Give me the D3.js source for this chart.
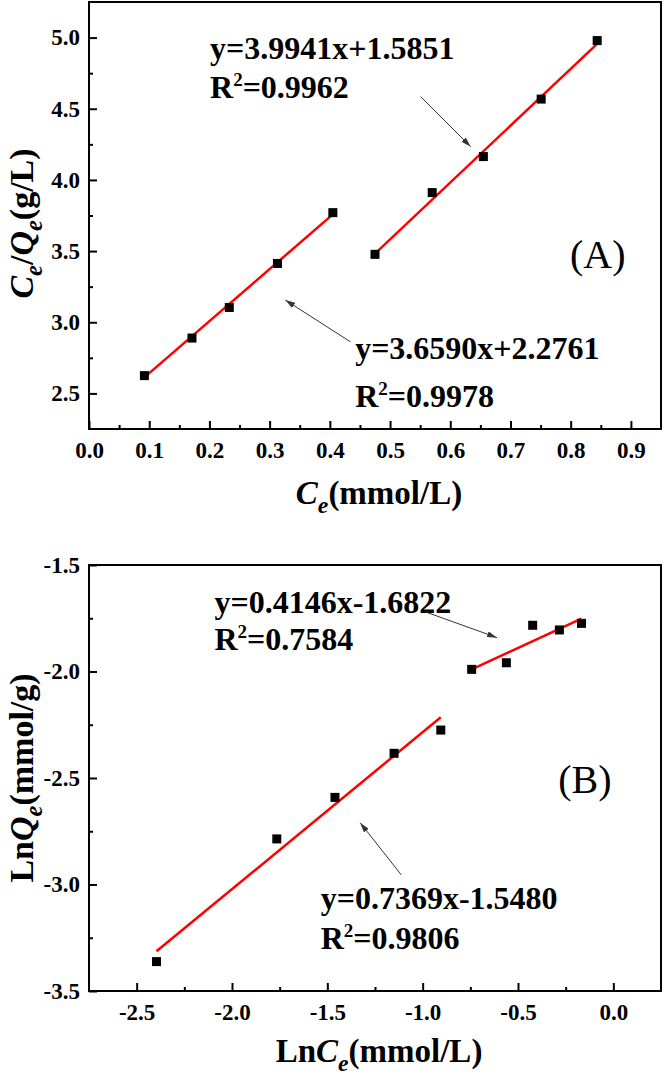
<!DOCTYPE html>
<html>
<head>
<meta charset="utf-8">
<script src="https://cdn.jsdelivr.net/npm/d3@7"></script>
<style>
  body { margin: 0; background: #fff; }
  svg { display: block; }
  text { font-family: "Liberation Serif", "Times New Roman", serif; }
</style>
</head>
<body>
<div id="chart"></div>
<script>
// ---- data ----
// (A) Langmuir: Ce vs Ce/Qe
const langmuirLowX  = [0.092, 0.171, 0.233, 0.313, 0.405];
const langmuirLowY  = [2.625, 2.889, 3.104, 3.413, 3.770];
const langmuirHighX = [0.475, 0.570, 0.655, 0.751, 0.844];
const langmuirHighY = [3.477, 3.911, 4.164, 4.568, 4.979];
const langmuirFits  = [
  {slope: 3.6590, icept: 2.2761, eq: 'y=3.6590x+2.2761', r2: '0.9978'},
  {slope: 3.9941, icept: 1.5851, eq: 'y=3.9941x+1.5851', r2: '0.9962'}
];
const langmuirXTicks = [0, 0.1, 0.2, 0.3, 0.4, 0.5, 0.6, 0.7, 0.8, 0.9];
const langmuirYTicks = [2.5, 3.0, 3.5, 4.0, 4.5, 5.0];

// (B) Freundlich: LnCe vs LnQe
const freundLowX  = [-2.396, -1.765, -1.460, -1.150, -0.905];
const freundLowY  = [-3.362, -2.786, -2.591, -2.384, -2.275];
const freundHighX = [-0.743, -0.561, -0.423, -0.283, -0.167];
const freundHighY = [-1.990, -1.959, -1.783, -1.805, -1.774];
const freundFits  = [
  {slope: 0.7369, icept: -1.5480, eq: 'y=0.7369x-1.5480', r2: '0.9806'},
  {slope: 0.4146, icept: -1.6822, eq: 'y=0.4146x-1.6822', r2: '0.7584'}
];
const freundXTicks = [-2.5, -2.0, -1.5, -1.0, -0.5, 0.0];
const freundYTicks = [-3.5, -3.0, -2.5, -2.0, -1.5];

const W = 666, H = 1078;
const svg = d3.select('#chart').append('svg')
  .attr('width', W).attr('height', H);

svg.append('defs').append('marker')
  .attr('id', 'arr')
  .attr('viewBox', '0 0 10 6')
  .attr('refX', 10).attr('refY', 3)
  .attr('markerWidth', 10).attr('markerHeight', 6)
  .attr('markerUnits', 'userSpaceOnUse')
  .attr('orient', 'auto')
  .append('path').attr('d', 'M0,0L10,3L0,6Z').attr('fill', '#333');

const fmt = d => d3.format('.1f')(d).replace('\u2212', '-');

function pairs(xs, ys) { return xs.map((v, i) => ({x: v, y: ys[i]})); }

function panel(cfg) {
  const x = d3.scaleLinear().domain(cfg.xDomain).range([cfg.left, cfg.right]);
  const y = d3.scaleLinear().domain(cfg.yDomain).range([cfg.bottom, cfg.top]);
  const g = svg.append('g');

  // minor ticks
  g.append('g').attr('transform', `translate(0,${cfg.bottom})`)
    .call(d3.axisBottom(x).tickValues(cfg.xMinor).tickSize(-4).tickFormat(''))
    .call(s => s.select('.domain').remove())
    .selectAll('line').attr('stroke', '#000').attr('stroke-width', 2);
  g.append('g').attr('transform', `translate(${cfg.left},0)`)
    .call(d3.axisLeft(y).tickValues(cfg.yMinor).tickSize(-4).tickFormat(''))
    .call(s => s.select('.domain').remove())
    .selectAll('line').attr('stroke', '#000').attr('stroke-width', 2);

  // major ticks + labels
  const xa = g.append('g').attr('transform', `translate(0,${cfg.bottom})`)
    .call(d3.axisBottom(x).tickValues(cfg.xTicks).tickSizeInner(-8).tickSizeOuter(0)
      .tickPadding(13).tickFormat(fmt));
  const ya = g.append('g').attr('transform', `translate(${cfg.left},0)`)
    .call(d3.axisLeft(y).tickValues(cfg.yTicks).tickSizeInner(-8).tickSizeOuter(0)
      .tickPadding(9).tickFormat(fmt));
  [xa, ya].forEach(a => {
    a.select('.domain').remove();
    a.selectAll('line').attr('stroke', '#000').attr('stroke-width', 2);
    a.selectAll('text').attr('font-size', 23).attr('font-weight', 'bold')
      .attr('fill', '#000');
  });

  // frame
  g.append('rect')
    .attr('x', cfg.left).attr('y', cfg.top)
    .attr('width', cfg.right - cfg.left).attr('height', cfg.bottom - cfg.top)
    .attr('fill', 'none').attr('stroke', '#000').attr('stroke-width', 2);

  // fit lines
  cfg.series.forEach((s, i) => {
    const f = cfg.fits[i];
    const ext = d3.extent(s.xs);
    g.append('line')
      .attr('x1', x(ext[0])).attr('y1', y(f.slope * ext[0] + f.icept))
      .attr('x2', x(ext[1])).attr('y2', y(f.slope * ext[1] + f.icept))
      .attr('stroke', '#ff0000').attr('stroke-width', 2.5);
  });

  // points
  cfg.series.forEach(s => {
    g.selectAll(null).data(pairs(s.xs, s.ys)).enter().append('rect')
      .attr('x', d => x(d.x) - 4.5).attr('y', d => y(d.y) - 4.5)
      .attr('width', 9).attr('height', 9).attr('fill', '#000');
  });

  // annotations
  cfg.notes.forEach(n => {
    const f = cfg.fits[n.fit];
    g.append('text').attr('x', x(n.at[0])).attr('y', y(n.at[1]))
      .attr('font-size', 32).attr('font-weight', 'bold').text(f.eq);
    const t = g.append('text').attr('x', x(n.at[0])).attr('y', y(n.at[2]))
      .attr('font-size', 32).attr('font-weight', 'bold');
    t.append('tspan').text('R');
    t.append('tspan').attr('font-size', 19).attr('dy', -12).text('2');
    t.append('tspan').attr('dy', 12).text('=' + f.r2);
    g.append('line')
      .attr('x1', x(n.arrow[0])).attr('y1', y(n.arrow[1]))
      .attr('x2', x(n.arrow[2])).attr('y2', y(n.arrow[3]))
      .attr('stroke', '#333').attr('stroke-width', 1)
      .attr('marker-end', 'url(#arr)');
  });

  // panel tag
  g.append('text').attr('x', x(cfg.tag[1])).attr('y', y(cfg.tag[2]))
    .attr('text-anchor', 'middle').attr('font-size', 40).text(cfg.tag[0]);

  // x title
  const xt = g.append('text').attr('x', (cfg.left + cfg.right) / 2 + 4).attr('y', cfg.bottom + cfg.xTitleGap)
    .attr('text-anchor', 'middle').attr('font-size', 33).attr('font-weight', 'bold');
  cfg.xTitle(xt);

  // y title
  const yt = g.append('text')
    .attr('transform', `translate(33,${(cfg.top + cfg.bottom) / 2 + cfg.yTitleShift}) rotate(-90)`)
    .attr('text-anchor', 'middle').attr('font-size', 34).attr('font-weight', 'bold');
  cfg.yTitle(yt);
}

function sub(t, main, s, italic) {
  t.append('tspan').attr('font-style', italic ? 'italic' : null).text(main);
  t.append('tspan').attr('font-style', 'italic').attr('font-size', '0.72em').attr('dy', 9).text(s);
  return t;
}

panel({
  left: 89, right: 661, top: 2, bottom: 429, xTitleGap: 75, yTitleShift: 8,
  xDomain: [0, 0.95], yDomain: [2.25, 5.25],
  xTicks: langmuirXTicks, yTicks: langmuirYTicks,
  xMinor: d3.range(0.05, 0.9, 0.1), yMinor: d3.range(2.75, 5.0, 0.5),
  series: [{xs: langmuirLowX, ys: langmuirLowY}, {xs: langmuirHighX, ys: langmuirHighY}],
  fits: langmuirFits,
  notes: [
    {fit: 1, at: [0.201, 4.85, 4.575], arrow: [0.551, 4.585, 0.634, 4.233]},
    {fit: 0, at: [0.442, 2.742, 2.407], arrow: [0.434, 2.863, 0.326, 3.156]}
  ],
  tag: ['(A)', 0.845, 3.381],
  xTitle: t => {
    sub(t, 'C', 'e', true);
    t.append('tspan').attr('dy', -9).text('(mmol/L)');
  },
  yTitle: t => {
    sub(t, 'C', 'e', true);
    t.append('tspan').attr('dy', -9).text('/');
    sub(t, 'Q', 'e', true);
    t.append('tspan').attr('dy', -9).text('(g/L)');
  }
});

panel({
  left: 89, right: 661, top: 565, bottom: 991, xTitleGap: 71, yTitleShift: 0,
  xDomain: [-2.75, 0.25], yDomain: [-3.5, -1.5],
  xTicks: freundXTicks, yTicks: freundYTicks,
  xMinor: d3.range(-2.25, 0.0, 0.5), yMinor: d3.range(-3.25, -1.6, 0.5),
  series: [{xs: freundLowX, ys: freundLowY}, {xs: freundHighX, ys: freundHighY}],
  fits: freundFits,
  notes: [
    {fit: 1, at: [-2.092, -1.725, -1.899], arrow: [-0.989, -1.719, -0.610, -1.841]},
    {fit: 0, at: [-1.535, -3.117, -3.303], arrow: [-1.112, -2.955, -1.328, -2.710]}
  ],
  tag: ['(B)', -0.149, -2.570],
  xTitle: t => {
    t.append('tspan').text('Ln');
    sub(t, 'C', 'e', true);
    t.append('tspan').attr('dy', -9).text('(mmol/L)');
  },
  yTitle: t => {
    t.append('tspan').text('Ln');
    sub(t, 'Q', 'e', true);
    t.append('tspan').attr('dy', -9).text('(mmol/g)');
  }
});
</script>
</body>
</html>
